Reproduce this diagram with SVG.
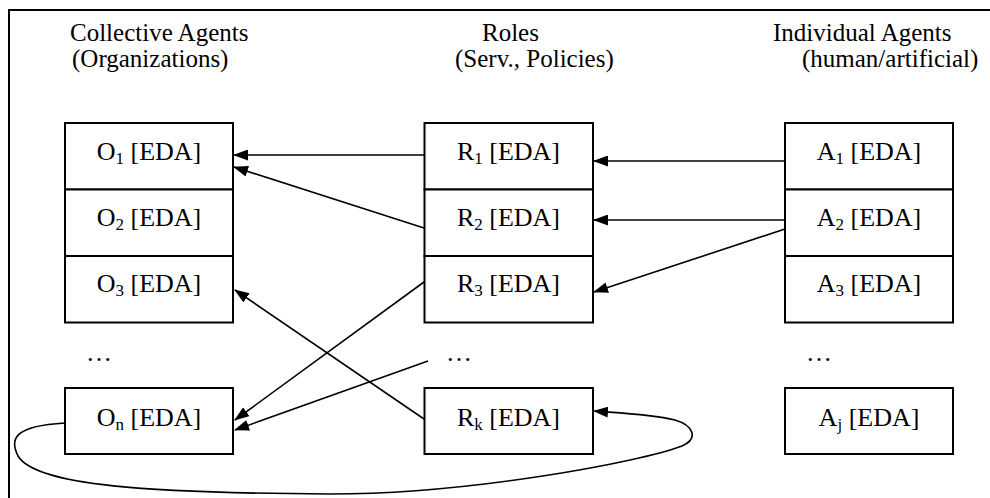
<svg xmlns="http://www.w3.org/2000/svg" width="990" height="498" viewBox="0 0 990 498">
<style>
text{font-family:"Liberation Serif","Times New Roman",serif;font-size:26px;fill:#000}
.hdr{font-size:25px}
.lbl{text-anchor:middle}
.sub{font-size:17px}
.box{fill:#fff;stroke:#000;stroke-width:2}
.con{fill:none;stroke:#000;stroke-width:1.6;marker-end:url(#ah)}
.frame{fill:none;stroke:#000;stroke-width:2}
</style>
<defs>
<marker id="ah" markerWidth="15" markerHeight="11" refX="14" refY="5.5" orient="auto" markerUnits="userSpaceOnUse">
<path d="M0,0 L15,5.5 L0,11 z" fill="#000"/>
</marker>
</defs>
<rect width="990" height="498" fill="#fff"/>
<path class="frame" d="M9,498 L9,10 L990,10"/>
<g id="headers">
<text class="hdr" x="70" y="41">Collective Agents</text>
<text class="hdr" x="72" y="67">(Organizations)</text>
<text class="hdr" x="482" y="41">Roles</text>
<text class="hdr" x="455" y="67">(Serv., Policies)</text>
<text class="hdr" x="773" y="41">Individual Agents</text>
<text class="hdr" x="802" y="67">(human/artificial)</text>
</g>
<g id="O1"><rect class="box" x="65" y="123" width="168" height="66.5"/><text class="lbl" x="149" y="160">O<tspan class="sub" dy="4">1</tspan><tspan dy="-4"> [EDA]</tspan></text></g>
<g id="O2"><rect class="box" x="65" y="189.5" width="168" height="66.5"/><text class="lbl" x="149" y="226">O<tspan class="sub" dy="4">2</tspan><tspan dy="-4"> [EDA]</tspan></text></g>
<g id="O3"><rect class="box" x="65" y="256" width="168" height="66.5"/><text class="lbl" x="149" y="292">O<tspan class="sub" dy="4">3</tspan><tspan dy="-4"> [EDA]</tspan></text></g>
<g id="Odots"><text x="86" y="361">…</text></g>
<g id="On"><rect class="box" x="65" y="388" width="168" height="66"/><text class="lbl" x="149" y="426">O<tspan class="sub" dy="4">n</tspan><tspan dy="-4"> [EDA]</tspan></text></g>
<g id="R1"><rect class="box" x="424.5" y="123" width="168.5" height="66.5"/><text class="lbl" x="508.5" y="160">R<tspan class="sub" dy="4">1</tspan><tspan dy="-4"> [EDA]</tspan></text></g>
<g id="R2"><rect class="box" x="424.5" y="189.5" width="168.5" height="66.5"/><text class="lbl" x="508.5" y="226">R<tspan class="sub" dy="4">2</tspan><tspan dy="-4"> [EDA]</tspan></text></g>
<g id="R3"><rect class="box" x="424.5" y="256" width="168.5" height="66.5"/><text class="lbl" x="508.5" y="292">R<tspan class="sub" dy="4">3</tspan><tspan dy="-4"> [EDA]</tspan></text></g>
<g id="Rdots"><text x="446" y="361">…</text></g>
<g id="Rk"><rect class="box" x="424.5" y="388" width="168.5" height="66"/><text class="lbl" x="508.5" y="426">R<tspan class="sub" dy="4">k</tspan><tspan dy="-4"> [EDA]</tspan></text></g>
<g id="A1"><rect class="box" x="785" y="123" width="168" height="66.5"/><text class="lbl" x="869" y="160">A<tspan class="sub" dy="4">1</tspan><tspan dy="-4"> [EDA]</tspan></text></g>
<g id="A2"><rect class="box" x="785" y="189.5" width="168" height="66.5"/><text class="lbl" x="869" y="226">A<tspan class="sub" dy="4">2</tspan><tspan dy="-4"> [EDA]</tspan></text></g>
<g id="A3"><rect class="box" x="785" y="256" width="168" height="66.5"/><text class="lbl" x="869" y="292">A<tspan class="sub" dy="4">3</tspan><tspan dy="-4"> [EDA]</tspan></text></g>
<g id="Adots"><text x="806" y="361">…</text></g>
<g id="Aj"><rect class="box" x="785" y="388" width="168" height="66"/><text class="lbl" x="869" y="426">A<tspan class="sub" dy="4">j</tspan><tspan dy="-4"> [EDA]</tspan></text></g>
<g id="connectors">
<path class="con" d="M424,155 L234,155"/>
<path class="con" d="M424,228 L234,167"/>
<path class="con" d="M785,161 L594,161"/>
<path class="con" d="M785,220 L594,220"/>
<path class="con" d="M785,229 L594,292"/>
<path class="con" d="M424,419 L235,290"/>
<path class="con" d="M424,282 L235,420"/>
<path class="con" d="M428,361 L235,430"/>
<path class="con" d="M65,423 C12,426 10,440 18,456 C36,486 150,493 330,494 C470,494 640,462 682,446 C700,438 692,425 675,420 C650,414 620,413 594,411"/>
</g>
</svg>
